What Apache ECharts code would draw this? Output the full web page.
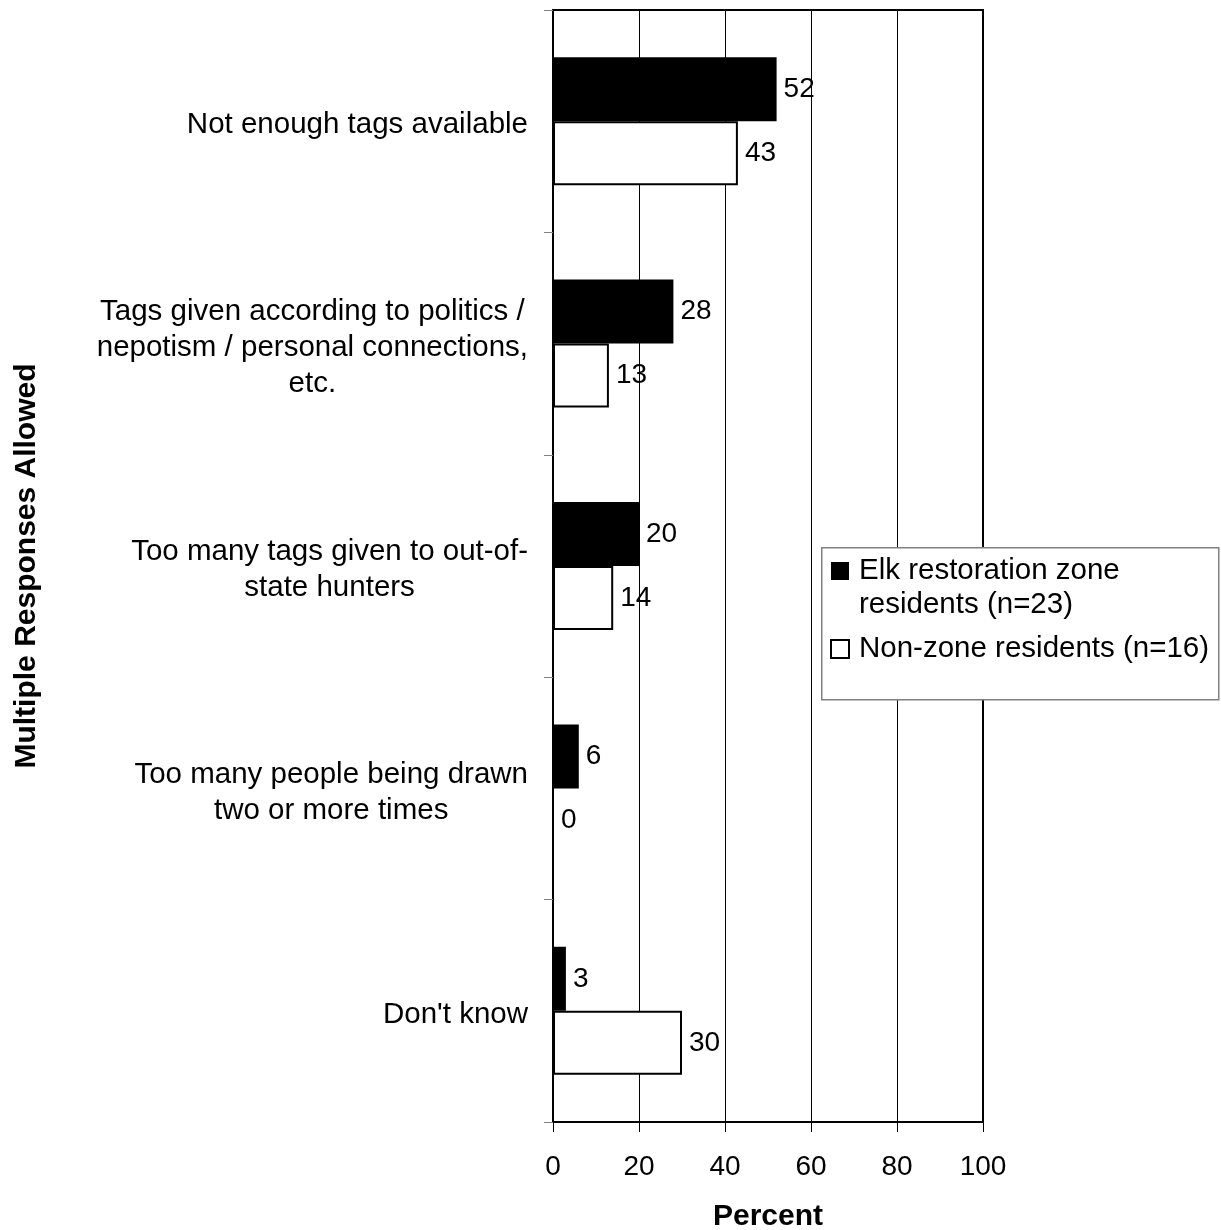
<!DOCTYPE html>
<html>
<head>
<meta charset="utf-8">
<script src="https://cdn.jsdelivr.net/npm/echarts@6/dist/echarts.min.js"></script>
<style>
html,body{margin:0;padding:0;background:#fff;}
#chart{width:1221px;height:1230px;}
</style>
</head>
<body>
<div id="chart"></div>
<script>
const categories = [
  "Not enough tags available",
  "Tags given according to politics /\nnepotism / personal connections,\netc.",
  "Too many tags given to out-of-\nstate hunters",
  "Too many people being drawn\ntwo or more times",
  "Don't know"
];
const seriesNames = ["Elk restoration zone\nresidents (n=23)", "Non-zone residents (n=16)"];
const elkZone = [52, 28, 20, 6, 3];
const nonZone = [43, 13, 14, 0, 30];
const xTicks = [0, 20, 40, 60, 80, 100];

const FONT = '"Liberation Sans", Arial, sans-serif';
const chart = echarts.init(document.getElementById('chart'), null, {renderer: 'canvas'});
chart.setOption({
  backgroundColor: '#fff',
  animation: false,
  textStyle: {fontFamily: FONT},
  grid: {left: 553, top: 10, width: 430, height: 1112, show: true, borderColor: '#000', borderWidth: 2,
    containLabel: false, outerBoundsMode: 'none'},
  graphic: [{
    type: 'rect', left: 821, top: 547, z: 1,
    shape: {width: 397, height: 152},
    style: {fill: '#fff', stroke: '#808080', lineWidth: 1.5}
  }],
  legend: {
    orient: 'vertical', left: 830, top: 520, z: 10,
    itemWidth: 18, itemHeight: 18, itemGap: 10, padding: 0,
    icon: 'rect',
    formatter: function (name) {
      const lines = name.split('\n').map(l => '{t|' + l + '}');
      return (name === seriesNames[0] ? '\n' : '') + lines.join('\n');
    },
    textStyle: {
      fontFamily: FONT, fontSize: 29.5, lineHeight: 34, color: '#000',
      rich: {t: {fontFamily: FONT, fontSize: 29.5, lineHeight: 34, color: '#000', padding: [0, 0, 0, 5]}}
    },
    data: seriesNames
  },
  xAxis: {
    type: 'value', min: 0, max: 100, interval: 20,
    name: 'Percent', nameLocation: 'middle', nameGap: 80,
    nameTextStyle: {fontFamily: FONT, fontSize: 30, fontWeight: 'bold', color: '#000'},
    axisLine: {show: true, lineStyle: {color: '#000', width: 2}},
    axisTick: {show: true, length: 10, lineStyle: {color: '#000', width: 1}},
    axisLabel: {fontFamily: FONT, fontSize: 28, color: '#000', margin: 31,
      formatter: v => xTicks.includes(v) ? String(v) : ''},
    splitLine: {show: true, lineStyle: {color: '#000', width: 1}}
  },
  yAxis: {
    type: 'category', data: categories, inverse: true,
    name: 'Multiple Responses Allowed', nameLocation: 'middle', nameGap: 511,
    nameTextStyle: {fontFamily: FONT, fontSize: 30, fontWeight: 'bold', color: '#000'},
    axisLine: {show: true, lineStyle: {color: '#000', width: 2}},
    axisTick: {show: true, length: 9, lineStyle: {color: '#808080', width: 1}},
    axisLabel: {
      margin: 25, align: 'right', color: '#000', fontFamily: FONT, fontSize: 29.5, lineHeight: 36,
      padding: [8, 0, 0, 0],
      formatter: v => v.split('\n').map(l => '{c|' + l + '}').join('\n'),
      rich: {c: {align: 'center', fontFamily: FONT, fontSize: 29.5, lineHeight: 36, color: '#000'}}
    },
    splitLine: {show: false}
  },
  series: [
    {
      name: seriesNames[0], type: 'bar', data: elkZone, barWidth: 64, barGap: '0%',
      itemStyle: {color: '#000', borderColor: '#000', borderWidth: 0},
      label: {show: true, position: 'right', distance: 7, fontFamily: FONT, fontSize: 28, color: '#000'}
    },
    {
      name: seriesNames[1], type: 'bar', data: nonZone, barWidth: 64, barGap: '0%',
      itemStyle: {color: '#fff', borderColor: '#000', borderWidth: 2},
      label: {show: true, position: 'right', distance: 7, fontFamily: FONT, fontSize: 28, color: '#000'}
    }
  ]
});
</script>
</body>
</html>
